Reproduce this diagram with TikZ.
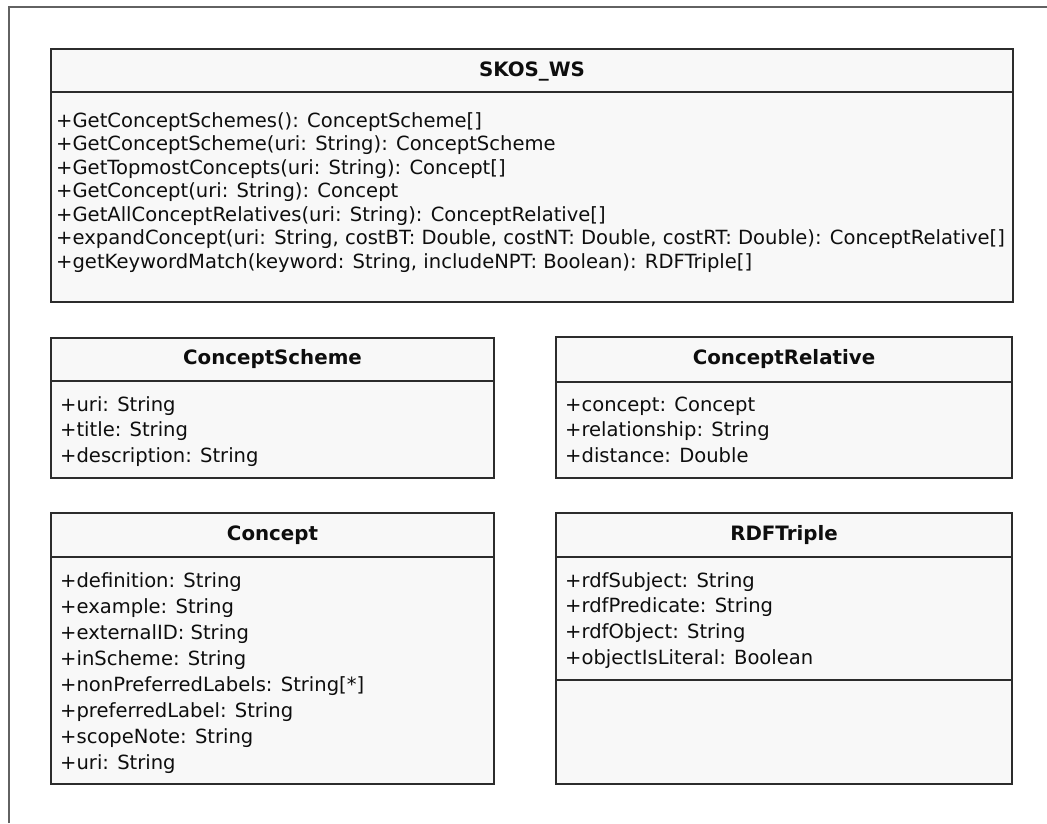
\documentclass[tikz,border=0pt]{standalone}
\usepackage{fontspec}
\setmainfont{DejaVu Sans}
\begin{document}
\begin{tikzpicture}[x=1pt,y=-1pt,
  classbox/.style={draw=boxline, fill=boxfill, line width=1.9pt, inner sep=0pt, rectangle},
  sepline/.style={draw=boxline, line width=1.9pt},
  title/.style={font=\fontsize{19.8}{23}\selectfont\bfseries, text=ink, inner sep=0pt, anchor=center},
  row/.style={font=\fontsize{19.55}{23}\selectfont, text=ink, inner sep=0pt, anchor=base west},
  frameline/.style={draw=framegray, line width=2pt}]
\definecolor{boxline}{HTML}{2C2C2C}
\definecolor{boxfill}{HTML}{F8F8F8}
\definecolor{ink}{HTML}{0E0E0E}
\definecolor{framegray}{HTML}{626262}

\useasboundingbox[fill=white] (0,0) rectangle (1047,823);

% outer frame (left and top edges)
\coordinate (fbl) at (9,823);
\coordinate (ftl) at (9,7);
\coordinate (ftr) at (1047,7);
\draw[frameline] (fbl) -- (ftl) -- (ftr);

% ---------- SKOS_WS ----------
\node[classbox, minimum width=962pt, minimum height=253pt] (skos) at (532,175.5) {};
\coordinate (skosS) at (0,92);
\draw[sepline] (skos.west |- skosS) -- (skos.east |- skosS);
\node[title] (skosT) at (532,71) {SKOS\_WS};
\node[row] (skos1) at (56,127)   {+GetConceptSchemes(): ConceptScheme[]};
\node[row] (skos2) at (56,150.5) {+GetConceptScheme(uri: String): ConceptScheme};
\node[row] (skos3) at (56,174)   {+GetTopmostConcepts(uri: String): Concept[]};
\node[row] (skos4) at (56,197.5) {+GetConcept(uri: String): Concept};
\node[row] (skos5) at (56,221)   {+GetAllConceptRelatives(uri: String): ConceptRelative[]};
\node[row] (skos6) at (56,244.5) {+expandConcept(uri: String, costBT: Double, costNT: Double, costRT: Double): ConceptRelative[]};
\node[row] (skos7) at (56,268)   {+getKeywordMatch(keyword: String, includeNPT: Boolean): RDFTriple[]};

% ---------- ConceptScheme ----------
\node[classbox, minimum width=443pt, minimum height=140pt] (cs) at (272.5,408) {};
\coordinate (csS) at (0,381);
\draw[sepline] (cs.west |- csS) -- (cs.east |- csS);
\node[title] (csT) at (272.5,359) {ConceptScheme};
\node[row] (cs1) at (60,411)   {+uri: String};
\node[row] (cs2) at (60,436.5) {+title: String};
\node[row] (cs3) at (60,462)   {+description: String};

% ---------- ConceptRelative ----------
\node[classbox, minimum width=456pt, minimum height=141pt] (cr) at (784,407.5) {};
\coordinate (crS) at (0,382);
\draw[sepline] (cr.west |- crS) -- (cr.east |- crS);
\node[title] (crT) at (784,359) {ConceptRelative};
\node[row] (cr1) at (565,411)   {+concept: Concept};
\node[row] (cr2) at (565,436.5) {+relationship: String};
\node[row] (cr3) at (565,462)   {+distance: Double};

% ---------- Concept ----------
\node[classbox, minimum width=443pt, minimum height=271pt] (co) at (272.5,648.5) {};
\coordinate (coS) at (0,557);
\draw[sepline] (co.west |- coS) -- (co.east |- coS);
\node[title] (coT) at (272.5,535) {Concept};
\node[row] (co1) at (60,587) {+definition: String};
\node[row] (co2) at (60,613) {+example: String};
\node[row] (co3) at (60,639) {+externalID: String};
\node[row] (co4) at (60,665) {+inScheme: String};
\node[row] (co5) at (60,691) {+nonPreferredLabels: String[*]};
\node[row] (co6) at (60,717) {+preferredLabel: String};
\node[row] (co7) at (60,743) {+scopeNote: String};
\node[row] (co8) at (60,769) {+uri: String};

% ---------- RDFTriple ----------
\node[classbox, minimum width=456pt, minimum height=271pt] (rt) at (784,648.5) {};
\coordinate (rtS) at (0,557);
\coordinate (rtS2) at (0,680);
\draw[sepline] (rt.west |- rtS) -- (rt.east |- rtS);
\draw[sepline] (rt.west |- rtS2) -- (rt.east |- rtS2);
\node[title] (rtT) at (784,535) {RDFTriple};
\node[row] (rt1) at (565,587)   {+rdfSubject: String};
\node[row] (rt2) at (565,612.5) {+rdfPredicate: String};
\node[row] (rt3) at (565,638)   {+rdfObject: String};
\node[row] (rt4) at (565,664)   {+objectIsLiteral: Boolean};
\end{tikzpicture}
\end{document}
